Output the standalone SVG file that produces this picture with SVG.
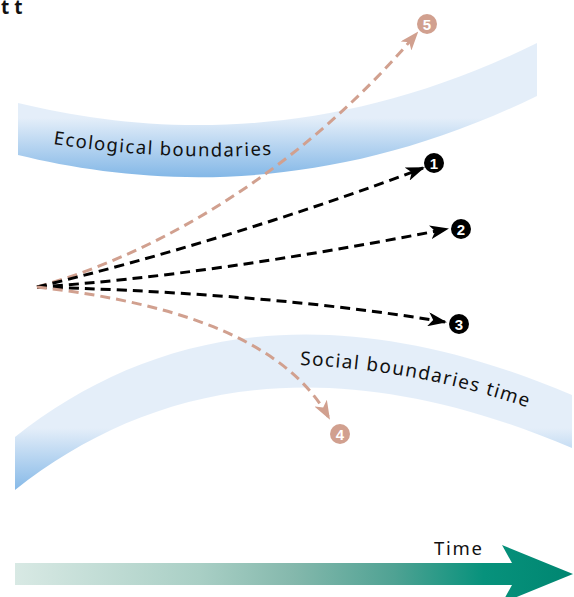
<svg xmlns="http://www.w3.org/2000/svg" xmlns:xlink="http://www.w3.org/1999/xlink" width="574" height="597" viewBox="0 0 574 597">
<style>
.lbl{font-family:"Noto Sans","Open Sans","DejaVu Sans",sans-serif;fill:#111;}
.blk{fill:none;stroke:#000;stroke-width:3;stroke-dasharray:10 6;}
.tan{fill:none;stroke:#d1a08f;stroke-width:3;stroke-dasharray:10 6;}
.num{font-family:"Liberation Sans","DejaVu Sans",sans-serif;font-weight:bold;font-size:15px;fill:#fff;text-anchor:middle;}
</style>
<defs>
<linearGradient id="gEco" gradientUnits="userSpaceOnUse" x1="0" y1="118" x2="0" y2="180">
<stop offset="0" stop-color="#e4eef9"/>
<stop offset="1" stop-color="#7fb5e6"/>
</linearGradient>
<linearGradient id="gSoc" gradientUnits="userSpaceOnUse" x1="0" y1="428" x2="0" y2="495">
<stop offset="0" stop-color="#e4eef9"/>
<stop offset="1" stop-color="#7fb5e6"/>
</linearGradient>
<linearGradient id="gTime" gradientUnits="userSpaceOnUse" x1="15" y1="0" x2="573" y2="0">
<stop offset="0" stop-color="#d8e9e4"/>
<stop offset="0.33" stop-color="#a9cfc5"/>
<stop offset="0.5" stop-color="#84b8ac"/>
<stop offset="0.68" stop-color="#4fa293"/>
<stop offset="0.84" stop-color="#07927c"/>
<stop offset="1" stop-color="#008671"/>
</linearGradient>
<marker id="aBlk" viewBox="0 0 19 14" refX="17" refY="7" markerWidth="19" markerHeight="14" markerUnits="userSpaceOnUse" orient="auto">
<path d="M0,0 L19,7 L0,14 L5,7 Z" fill="#000"/>
</marker>
<marker id="aTan" viewBox="0 0 19 14" refX="17" refY="7" markerWidth="19" markerHeight="14" markerUnits="userSpaceOnUse" orient="auto">
<path d="M0,0 L19,7 L0,14 L5,7 Z" fill="#d1a08f"/>
</marker>
<path id="ecoPath" d="M53,144 Q170,162 285,154"/>
<path id="socPath" d="M300,365 Q420,370 532,409"/>
</defs>

<text x="1" y="14" class="lbl" font-size="19" font-weight="bold">t t</text>

<g id="ecological-boundaries">
<path d="M18,103 C150,135 330,145 537,43 L537,96 C330,197 150,187 18,155 Z" fill="url(#gEco)"/>
<text class="lbl" font-size="18.5"><textPath xlink:href="#ecoPath" textLength="219" lengthAdjust="spacing">Ecological boundaries</textPath></text>
</g>

<g id="social-boundaries">
<path d="M15,437 C150,330 330,292 572,395 L572,448 C330,345 150,383 15,490 Z" fill="url(#gSoc)"/>
<text class="lbl" font-size="19"><textPath xlink:href="#socPath" textLength="232" lengthAdjust="spacing">Social boundaries time</textPath></text>
</g>

<g id="connectors">
<path class="tan" d="M37,287 C170,250 310,160 417,33" marker-end="url(#aTan)"/>
<path class="blk" d="M37,287 C150,260 300,215 423,168" marker-end="url(#aBlk)"/>
<path class="blk" d="M37,287 C150,280 300,258 447,229" marker-end="url(#aBlk)"/>
<path class="blk" d="M37,287 C150,290 300,298 445,322" marker-end="url(#aBlk)"/>
<path class="tan" d="M37,287 C150,300 280,330 329,418" marker-end="url(#aTan)"/>
</g>

<g id="outcome-1"><circle cx="434" cy="163" r="10" fill="#000"/><text x="434" y="168.5" class="num">1</text></g>
<g id="outcome-2"><circle cx="461" cy="229" r="10" fill="#000"/><text x="461" y="234.5" class="num">2</text></g>
<g id="outcome-3"><circle cx="459" cy="324" r="10" fill="#000"/><text x="459" y="329.5" class="num">3</text></g>
<g id="outcome-4"><circle cx="340" cy="434" r="10" fill="#d1a08f"/><text x="340" y="439.5" class="num">4</text></g>
<g id="outcome-5"><circle cx="427" cy="24" r="10" fill="#d1a08f"/><text x="427" y="29.5" class="num">5</text></g>

<g id="time-axis">
<path d="M15,563 L512,563 L502,545 L573,574 L502,603 L512,585 L15,585 Z" fill="url(#gTime)"/>
<text x="434" y="555" class="lbl" font-size="18.5" textLength="48" lengthAdjust="spacing">Time</text>
</g>
</svg>
